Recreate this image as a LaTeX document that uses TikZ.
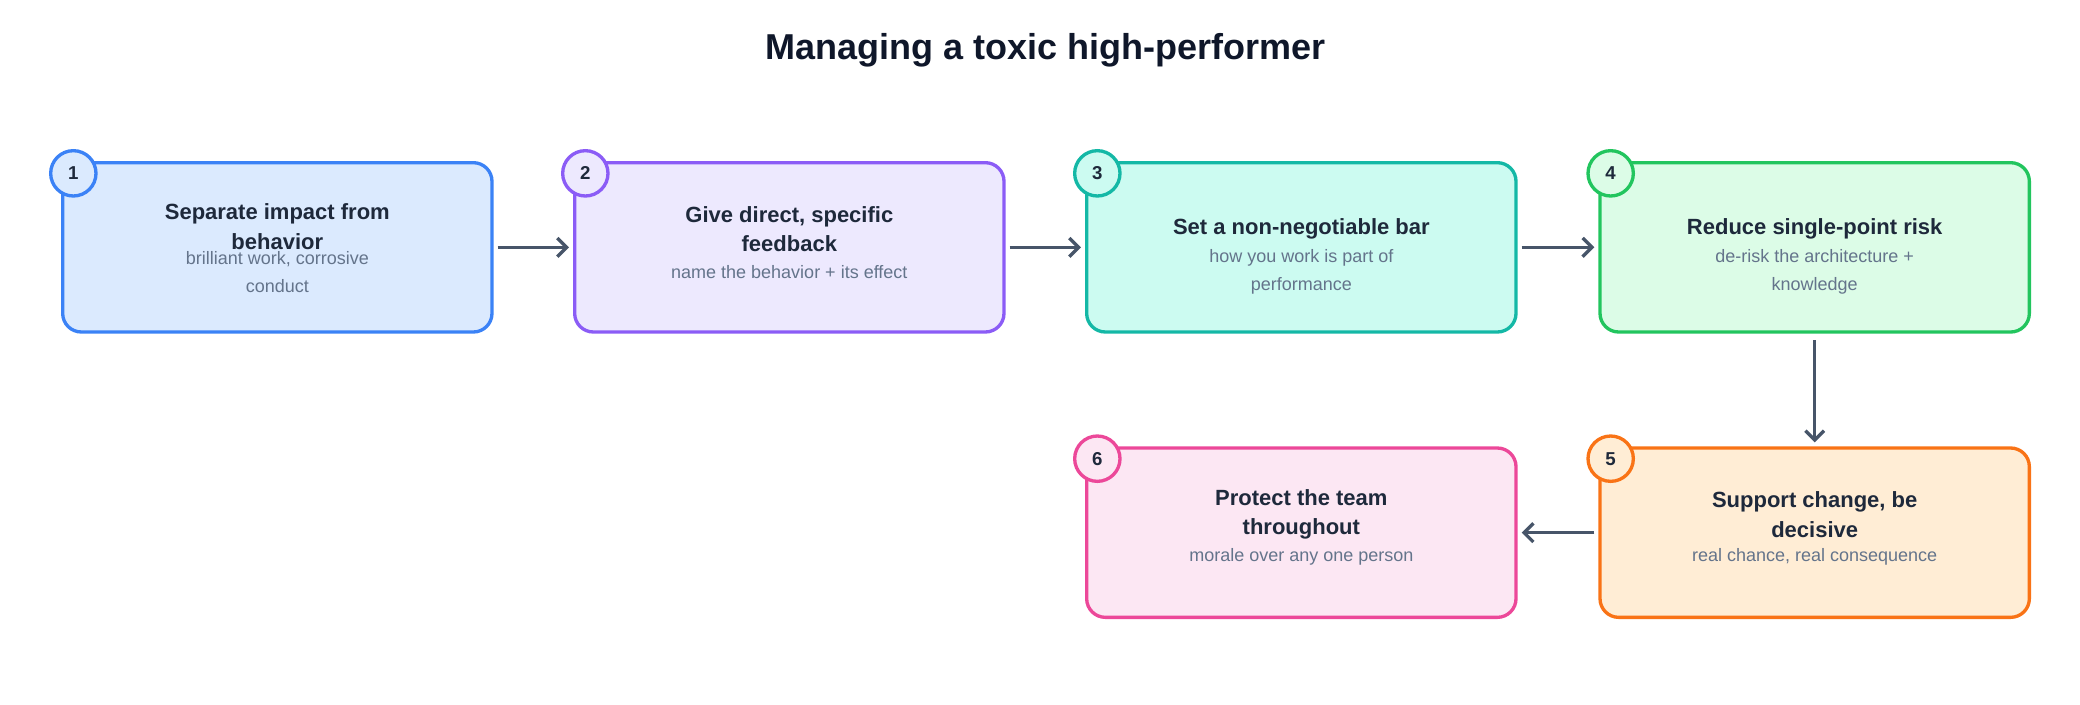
\documentclass[tikz,border=0pt]{standalone}
\usepackage{fontspec}
\setmainfont{Liberation Sans}
\usetikzlibrary{arrows.meta}
\definecolor{bB}{HTML}{3B82F6}\definecolor{fB}{HTML}{DBEAFE}
\definecolor{bP}{HTML}{8B5CF6}\definecolor{fP}{HTML}{EDE9FE}
\definecolor{bT}{HTML}{14B8A6}\definecolor{fT}{HTML}{CCFBF1}
\definecolor{bG}{HTML}{22C55E}\definecolor{fG}{HTML}{DCFCE7}
\definecolor{bO}{HTML}{F97316}\definecolor{fO}{HTML}{FFEDD5}
\definecolor{bK}{HTML}{EC4899}\definecolor{fK}{HTML}{FCE7F3}
\definecolor{ttl}{HTML}{0F172A}\definecolor{hd}{HTML}{1E293B}
\definecolor{sub}{HTML}{64748B}\definecolor{arc}{HTML}{475569}
\tikzset{
 box/.style={draw=#1, line width=2.5pt, rounded corners=14pt, minimum width=322pt, minimum height=127pt, inner sep=0pt},
 num/.style={circle, draw=#1, line width=2.5pt, minimum size=34pt, inner sep=0pt, font=\fontsize{14}{16}\selectfont\bfseries, text=hd},
 hd/.style={font=\fontsize{16.5}{22}\selectfont\bfseries, text=hd, align=center},
 sb/.style={font=\fontsize{13.5}{21}\selectfont, text=sub, align=center},
 arr/.style={draw=arc, line width=2.5pt, -{Straight Barb[length=7pt,width=14pt]}, shorten <=3pt, shorten >=3pt}
}
\begin{document}
\begin{tikzpicture}[x=1pt,y=-1pt]
\useasboundingbox (0,0) rectangle (1560,528);
\node[font=\fontsize{27}{32}\selectfont\bfseries, text=ttl] (title) at (784,38) {Managing a toxic high-performer};
% boxes
\node[box=bB, fill=fB] (b1) at (208,185.5) {};
\node[box=bP, fill=fP] (b2) at (592,185.5) {};
\node[box=bT, fill=fT] (b3) at (976,185.5) {};
\node[box=bG, fill=fG] (b4) at (1361,185.5) {};
\node[box=bO, fill=fO] (b5) at (1361,399.5) {};
\node[box=bK, fill=fK] (b6) at (976,399.5) {};
% circles
\node[num=bB, fill=fB] (n1) at (55,130) {1};
\node[num=bP, fill=fP] (n2) at (439,130) {2};
\node[num=bT, fill=fT] (n3) at (823,130) {3};
\node[num=bG, fill=fG] (n4) at (1208,130) {4};
\node[num=bO, fill=fO] (n5) at (1208,344) {5};
\node[num=bK, fill=fK] (n6) at (823,344) {6};
% texts
\node[hd] (h1) at (208,170) {Separate impact from\\behavior};
\node[sb] (s1) at (208,204) {brilliant work, corrosive\\conduct};
\node[hd] (h2) at (592,172) {Give direct, specific\\feedback};
\node[sb] (s2) at (592,204) {name the behavior + its effect};
\node[hd] (h3) at (976,172) {Set a non-negotiable bar};
\node[sb] (s3) at (976,204) {how you work is part of\\performance};
\node[hd] (h4) at (1361,172) {Reduce single-point risk};
\node[sb] (s4) at (1361,204) {de-risk the architecture +\\knowledge};
\node[hd] (h5) at (1361,386) {Support change, be\\decisive};
\node[sb] (s5) at (1361,418) {real chance, real consequence};
\node[hd] (h6) at (976,386) {Protect the team\\throughout};
\node[sb] (s6) at (976,418) {morale over any one person};
% arrows
\draw[arr] (b1.east) -- (b2.west);
\draw[arr] (b2.east) -- (b3.west);
\draw[arr] (b3.east) -- (b4.west);
\draw[arr, shorten <=5pt] (b4.south) -- (b5.north);
\draw[arr] (b5.west) -- (b6.east);
\end{tikzpicture}
\end{document}
